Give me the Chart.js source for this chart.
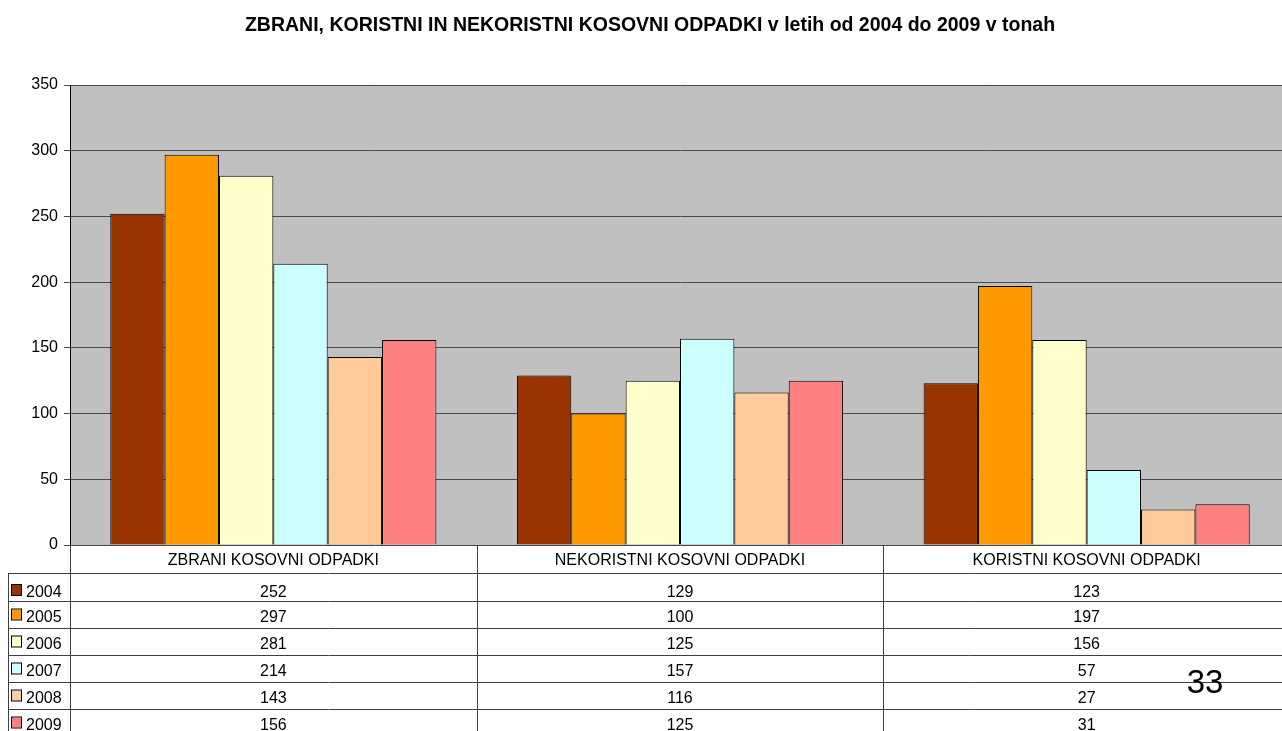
<!DOCTYPE html>
<html>
<head>
<meta charset="utf-8">
<script src="https://cdn.jsdelivr.net/npm/chart.js@4/dist/chart.umd.min.js"></script>
<style>
  html, body { margin: 0; padding: 0; background: #fff; overflow: hidden; }
  #wrap { width: 1282px; height: 731px; overflow: hidden; }
</style>
</head>
<body>
<div id="wrap"><canvas id="c" width="1290" height="731"></canvas></div>
<script>
// --- data ---
const title = 'ZBRANI, KORISTNI IN NEKORISTNI KOSOVNI ODPADKI v letih od 2004 do 2009 v tonah';
const categories = ['ZBRANI KOSOVNI ODPADKI', 'NEKORISTNI KOSOVNI ODPADKI', 'KORISTNI KOSOVNI ODPADKI'];
const years = ['2004', '2005', '2006', '2007', '2008', '2009'];
const v2004 = [252, 129, 123];
const v2005 = [297, 100, 197];
const v2006 = [281, 125, 156];
const v2007 = [214, 157, 57];
const v2008 = [143, 116, 27];
const v2009 = [156, 125, 31];
const yTicks = [0, 50, 100, 150, 200, 250, 300, 350];
const pageNo = '33';

const series = [v2004, v2005, v2006, v2007, v2008, v2009];
const colors = ['#993300', '#FF9900', '#FFFFCC', '#CCFFFF', '#FFCC99', '#FF8080'];

const FONT = '"Liberation Sans", Arial, sans-serif';

// gray plot background
const plotBg = {
  id: 'plotBg',
  beforeDraw(chart) {
    const { ctx, chartArea: a } = chart;
    ctx.save();
    ctx.fillStyle = '#C0C0C0';
    ctx.fillRect(a.left, a.top, a.right - a.left, a.bottom - a.top);
    ctx.restore();
  },
};

// title, data table under the plot, page number
const dataTable = {
  id: 'dataTable',
  afterDraw(chart) {
    const { ctx, chartArea: a, scales } = chart;
    const x = scales.x;
    const n = categories.length;
    const colW = (x.right - x.left) / n;
    const headTop = a.bottom;
    const headBot = 573.5;
    const rowH = 27;
    const firstLine = 601.5;
    const tableBot = 731;

    ctx.save();
    // title
    ctx.fillStyle = '#000';
    ctx.font = 'bold 19.5px ' + FONT;
    ctx.textAlign = 'center';
    ctx.textBaseline = 'alphabetic';
    ctx.fillText(title, 650, 31);

    // lines
    ctx.strokeStyle = '#404040';
    ctx.lineWidth = 1;
    ctx.beginPath();
    for (let i = 0; i <= n; i++) {
      const px = Math.round(x.left + i * colW) + 0.5;
      ctx.moveTo(px, headTop);
      ctx.lineTo(px, tableBot);
    }
    ctx.moveTo(8.5, headBot);
    ctx.lineTo(8.5, tableBot);
    ctx.moveTo(8, headBot);
    ctx.lineTo(x.right, headBot);
    for (let r = 0; r < years.length - 1; r++) {
      const py = firstLine + r * rowH;
      ctx.moveTo(8, py);
      ctx.lineTo(x.right, py);
    }
    ctx.stroke();

    // header
    ctx.font = '16px ' + FONT;
    ctx.fillStyle = '#000';
    categories.forEach((c, i) => {
      ctx.fillText(c, x.getPixelForValue(i), 565);
    });

    // rows
    years.forEach((yr, r) => {
      const base = r === 0 ? 597 : firstLine + (r - 1) * rowH + 20;
      // legend key
      ctx.fillStyle = colors[r];
      ctx.fillRect(12, base - 12, 9, 10);
      ctx.strokeStyle = '#000';
      ctx.strokeRect(11.5, base - 12.5, 10, 11);
      ctx.fillStyle = '#000';
      ctx.textAlign = 'left';
      ctx.fillText(yr, 26, base);
      ctx.textAlign = 'center';
      series[r].forEach((v, i) => {
        ctx.fillText(String(v), x.getPixelForValue(i), base);
      });
    });

    // page number
    ctx.font = '33px ' + FONT;
    ctx.fillText(pageNo, 1205, 693);
    ctx.restore();
  },
};

new Chart(document.getElementById('c'), {
  type: 'bar',
  data: {
    labels: categories,
    datasets: years.map((yr, i) => ({
      label: yr,
      data: series[i],
      backgroundColor: colors[i],
      borderColor: '#000',
      borderWidth: 1,
      categoryPercentage: 0.802,
      barPercentage: 1.0,
    })),
  },
  options: {
    responsive: false,
    animation: false,
    devicePixelRatio: 1,
    layout: { padding: { top: 85, bottom: 186, left: 0, right: 0 } },
    plugins: {
      legend: { display: false },
      title: { display: false },
      tooltip: { enabled: false },
    },
    scales: {
      x: { display: false },
      y: {
        min: 0,
        max: 350,
        afterFit(scale) { scale.width = 70; },
        afterBuildTicks(scale) { scale.ticks = yTicks.map(v => ({ value: v })); },
        ticks: {
          color: '#000',
          padding: 6,
          font: { family: FONT, size: 16 },
        },
        grid: { color: '#4a4a4a', lineWidth: 1, tickLength: 6 },
        border: { color: '#000', width: 1 },
      },
    },
  },
  plugins: [plotBg, dataTable],
});
</script>
</body>
</html>
